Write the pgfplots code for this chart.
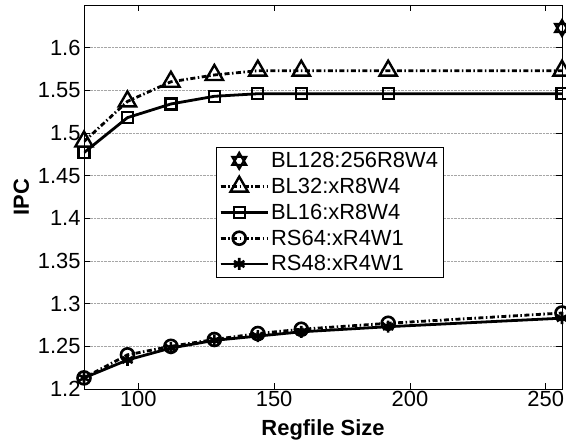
\documentclass[border=0pt]{standalone}
\usepackage{fontspec}
\setmainfont{Liberation Sans}
\usepackage{pgfplots}
\pgfplotsset{compat=1.18}
\pgfdeclareplotmark{hexagram}{%
  \pgfpathmoveto{\pgfqpointpolar{90}{\pgfplotmarksize}}%
  \pgfpathlineto{\pgfqpointpolar{210}{\pgfplotmarksize}}%
  \pgfpathlineto{\pgfqpointpolar{330}{\pgfplotmarksize}}%
  \pgfpathclose
  \pgfpathmoveto{\pgfqpointpolar{270}{\pgfplotmarksize}}%
  \pgfpathlineto{\pgfqpointpolar{30}{\pgfplotmarksize}}%
  \pgfpathlineto{\pgfqpointpolar{150}{\pgfplotmarksize}}%
  \pgfpathclose
  \pgfusepathqstroke}
\tikzset{mdashdot/.style={dash pattern=on 5bp off 2.5bp on 1.5bp off 2.5bp}}
\newcommand\bigf{\fontsize{22}{25}\selectfont}
\begin{document}
\begin{tikzpicture}
\begin{axis}[
  scale only axis,
  width=478bp, height=384bp,
  xmin=80, xmax=256, ymin=1.2, ymax=1.65,
  xtick={100,150,200,250},
  ytick={1.2,1.25,1.3,1.35,1.4,1.45,1.5,1.55,1.6},
  yticklabel style={/pgf/number format/fixed,/pgf/number format/precision=2},
  /pgf/number format/assume math mode=true,
  tick label style={font=\bigf},
  xticklabel style={yshift=1bp},
  label style={font=\bigf\bfseries},
  xlabel={Regfile Size},
  ylabel={IPC},
  xlabel style={yshift=-6bp},
  ylabel style={yshift=2bp},
  tick align=inside,
  major tick length=6bp,
  ymajorgrids,
  grid style={densely dotted, gray!70, line width=0.6pt},
  axis line style={line width=0.8pt},
  every tick/.style={black, line width=0.6pt},
  legend cell align=left,
  legend image code/.code={%
    \draw[#1, mark repeat=2, mark phase=2] plot coordinates {(0bp,0bp) (18.5bp,0bp) (37bp,0bp)};
    \path (0bp,0bp) -- (47bp,0bp);},
  legend style={at={(0.276,0.630)}, anchor=north west, draw=black, line width=0.8pt,
    font=\bigf, nodes={font=\bigf}, row sep=5bp, inner xsep=3bp, inner ysep=3bp},
  every axis plot/.append style={line width=2.8bp, black},
]
\addplot[only marks, draw opacity=0, mark=hexagram, mark size=8bp,
  mark options={solid, line width=2.2bp, draw opacity=1}]
  coordinates {(256,1.623)};
\addlegendentry{BL128:256R8W4}
\addplot[mdashdot, mark=triangle, mark size=10bp, mark options={solid, line width=2.4bp}]
  coordinates {(80,1.490) (96,1.537) (112,1.560) (128,1.568) (144,1.573) (160,1.573) (192,1.573) (256,1.573)};
\addlegendentry{BL32:xR8W4}
\addplot[solid, mark=square, mark size=5.5bp, mark options={solid, line width=2.2bp}]
  coordinates {(80,1.477) (96,1.518) (112,1.534) (128,1.543) (144,1.546) (160,1.546) (192,1.546) (256,1.546)};
\addlegendentry{BL16:xR8W4}
\addplot[mdashdot, mark=o, mark size=6.5bp, mark options={solid, line width=2.6bp}]
  coordinates {(80,1.213) (96,1.240) (112,1.250) (128,1.258) (144,1.265) (160,1.270) (192,1.277) (256,1.289)};
\addlegendentry{RS64:xR4W1}
\addplot[solid, mark=asterisk, mark size=6bp, mark options={solid, line width=2.6bp}]
  coordinates {(80,1.213) (96,1.234) (112,1.248) (128,1.257) (144,1.262) (160,1.267) (192,1.273) (256,1.283)};
\addlegendentry{RS48:xR4W1}
\end{axis}
\pgfresetboundingbox
\path ([xshift=-84bp,yshift=-52bp]current axis.south west) rectangle ([xshift=4bp,yshift=5bp]current axis.north east);
\end{tikzpicture}
\end{document}
